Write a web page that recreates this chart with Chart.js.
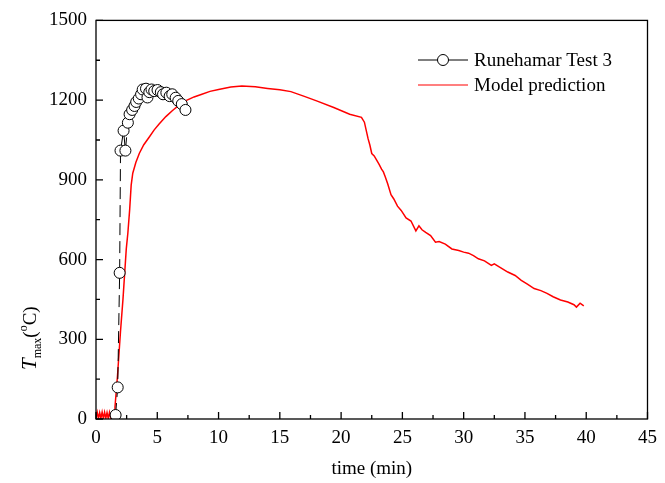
<!DOCTYPE html>
<html>
<head>
<meta charset="utf-8">
<script src="https://cdn.jsdelivr.net/npm/chart.js@4/dist/chart.umd.min.js"></script>
<style>
  html, body { margin: 0; padding: 0; background: #fff; }
  #wrap { width: 665px; height: 483px; }
</style>
</head>
<body>
<div id="wrap"><canvas id="tempChart" width="665" height="483"></canvas></div>
<script>
// Runehamar Test 3 measurements (time in min, T in degC)
const testTime = [1.6, 1.77, 1.93, 2.0, 2.25, 2.4, 2.6, 2.74, 2.95, 3.14, 3.28, 3.49, 3.68, 3.81, 4.08, 4.2, 4.35, 4.53, 4.75, 5.02, 5.29, 5.47, 5.74, 6.01, 6.22, 6.5, 6.71, 7.0, 7.3];
const testTemp = [15, 119, 550, 1010, 1085, 1010, 1115, 1147, 1163, 1178, 1193, 1206, 1222, 1240, 1243, 1210, 1230, 1240, 1234, 1238, 1230, 1222, 1228, 1215, 1222, 1209, 1197, 1185, 1163];

// model prediction
const modelTime = [0, 0.1, 0.2, 0.3, 0.4, 0.5, 0.6, 0.7, 0.8, 0.9, 1.0, 1.1, 1.2, 1.3, 1.4, 1.5, 1.55, 1.75, 2.0, 2.2, 2.47, 2.6, 2.75, 2.87, 3.0, 3.25, 3.54, 3.9, 4.35, 4.75, 5.15, 5.7, 6.22, 6.75, 7.3, 8.0, 8.64, 9.3, 10.0, 11.0, 11.9, 13.0, 14.0, 15.0, 15.9, 17.0, 18.0, 19.4, 20.7, 21.66, 21.9, 22.2, 22.35, 22.5, 22.7, 22.9, 23.1, 23.3, 23.45, 23.6, 23.8, 24.07, 24.3, 24.6, 24.9, 25.3, 25.7, 26.1, 26.35, 26.6, 26.9, 27.3, 27.7, 28.0, 28.5, 29.04, 29.6, 30.0, 30.4, 30.8, 31.2, 31.7, 32.26, 32.5, 33.0, 33.6, 34.2, 34.7, 35.2, 35.75, 36.3, 36.8, 37.3, 37.9, 38.5, 39.0, 39.2, 39.5, 39.8];
const modelTemp = [3, 25, 2, 24, 3, 26, 2, 25, 3, 24, 2, 25, 4, 22, 10, 30, 46, 160, 330, 450, 640, 700, 790, 880, 925, 965, 1000, 1032, 1061, 1088, 1110, 1138, 1160, 1180, 1197, 1212, 1222, 1233, 1240, 1249, 1253, 1250, 1244, 1239, 1232, 1214, 1197, 1172, 1147, 1135, 1117, 1055, 1030, 999, 990, 974, 958, 940, 930, 912, 885, 844, 828, 801, 785, 757, 745, 708, 727, 712, 702, 690, 665, 668, 658, 640, 634, 628, 624, 615, 603, 595, 578, 584, 570, 553, 540, 522, 508, 491, 483, 473, 460, 448, 440, 430, 421, 436, 426];

const xTicks = [0, 5, 10, 15, 20, 25, 30, 35, 40, 45];
const yTicks = [0, 300, 600, 900, 1200, 1500];
const seriesNames = ['Runehamar Test 3', 'Model prediction'];

const FONT = '"Liberation Serif", "Times New Roman", serif';

const toPoints = (xs, ys) => xs.map((x, i) => ({ x: x, y: ys[i] }));

// frame, inward ticks, axis titles and legend
const decorations = {
    id: 'decorations',
    afterDraw(chart) {
        const ctx = chart.ctx;
        const area = chart.chartArea;
        const xs = chart.scales.x;
        const ys = chart.scales.y;
        ctx.save();
        ctx.strokeStyle = '#000';
        ctx.lineWidth = 1.3;
        ctx.strokeRect(area.left, area.top, area.right - area.left, area.bottom - area.top);

        ctx.beginPath();
        for (let v = 0; v <= 45; v += 2.5) {
            const px = xs.getPixelForValue(v);
            const len = v % 5 === 0 ? 7 : 4;
            ctx.moveTo(px, area.bottom);
            ctx.lineTo(px, area.bottom - len);
        }
        for (let v = 0; v <= 1500; v += 150) {
            const py = ys.getPixelForValue(v);
            const len = v % 300 === 0 ? 7 : 4;
            ctx.moveTo(area.left, py);
            ctx.lineTo(area.left + len, py);
        }
        ctx.stroke();

        // x title
        ctx.fillStyle = '#000';
        ctx.font = '19px ' + FONT;
        ctx.textAlign = 'center';
        ctx.textBaseline = 'alphabetic';
        ctx.fillText('time (min)', (area.left + area.right) / 2, 474);

        // y title: T_max(°C)
        ctx.save();
        ctx.translate(36, 370);
        ctx.rotate(-Math.PI / 2);
        ctx.textAlign = 'left';
        let cx = 0;
        ctx.font = 'italic 21px ' + FONT;
        ctx.fillText('T', cx, 0);
        cx += ctx.measureText('T').width;
        ctx.font = '12px ' + FONT;
        ctx.fillText('max', cx, 5);
        cx += ctx.measureText('max').width;
        ctx.font = '19px ' + FONT;
        ctx.fillText('(', cx, 0);
        cx += ctx.measureText('(').width;
        ctx.font = '12px ' + FONT;
        ctx.fillText('o', cx, -9);
        cx += ctx.measureText('o').width;
        ctx.font = '19px ' + FONT;
        ctx.fillText('C)', cx, 0);
        ctx.restore();

        // legend
        const lx0 = 418, lx1 = 468, ly0 = 60, ly1 = 85;
        ctx.lineWidth = 1;
        ctx.strokeStyle = '#000';
        ctx.beginPath();
        ctx.moveTo(lx0, ly0);
        ctx.lineTo(lx1, ly0);
        ctx.stroke();
        ctx.beginPath();
        ctx.arc((lx0 + lx1) / 2, ly0, 5.5, 0, Math.PI * 2);
        ctx.fillStyle = '#fff';
        ctx.fill();
        ctx.stroke();
        ctx.strokeStyle = '#ff0000';
        ctx.lineWidth = 1.2;
        ctx.beginPath();
        ctx.moveTo(lx0, ly1);
        ctx.lineTo(lx1, ly1);
        ctx.stroke();
        ctx.fillStyle = '#000';
        ctx.font = '19px ' + FONT;
        ctx.textAlign = 'left';
        ctx.textBaseline = 'middle';
        ctx.fillText(seriesNames[0], 474, ly0 + 1);
        ctx.fillText(seriesNames[1], 474, ly1 + 1);
        ctx.restore();
    }
};

new Chart(document.getElementById('tempChart'), {
    type: 'scatter',
    data: {
        datasets: [{
            label: seriesNames[0],
            data: toPoints(testTime, testTemp),
            showLine: true,
            borderColor: '#000',
            borderWidth: 1,
            borderDash: [12, 6],
            pointRadius: 5.5,
            pointBorderWidth: 1,
            pointBorderColor: '#000',
            pointBackgroundColor: '#fff',
            tension: 0
        }, {
            label: seriesNames[1],
            data: toPoints(modelTime, modelTemp),
            showLine: true,
            borderColor: '#ff0000',
            borderWidth: 1.5,
            pointRadius: 0,
            tension: 0
        }]
    },
    options: {
        responsive: false,
        animation: false,
        layout: { padding: { top: 15, right: 9, left: 0, bottom: 0 } },
        plugins: {
            legend: { display: false },
            tooltip: { enabled: false }
        },
        scales: {
            x: {
                type: 'linear',
                min: 0,
                max: 45,
                afterBuildTicks: s => { s.ticks = xTicks.map(v => ({ value: v })); },
                afterFit: s => { s.height = 64; },
                grid: { display: false, drawTicks: false },
                border: { display: false },
                ticks: { color: '#000', padding: 8, maxRotation: 0, callback: v => String(v), font: { family: FONT, size: 19 } }
            },
            y: {
                type: 'linear',
                min: 0,
                max: 1500,
                afterBuildTicks: s => { s.ticks = yTicks.map(v => ({ value: v })); },
                afterFit: s => { s.width = 96; },
                grid: { display: false, drawTicks: false },
                border: { display: false },
                ticks: { color: '#000', padding: 9, callback: v => String(v), font: { family: FONT, size: 19 } }
            }
        }
    },
    plugins: [decorations]
});
</script>
</body>
</html>
